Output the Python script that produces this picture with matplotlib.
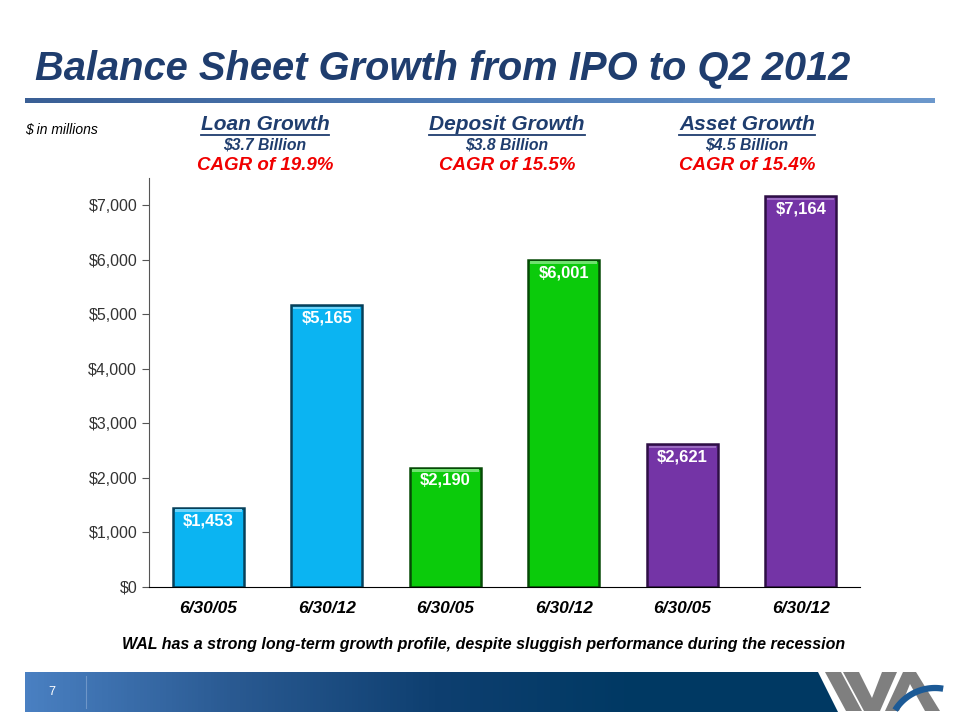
import numpy as np
import matplotlib.pyplot as plt
from matplotlib.patches import Polygon
from matplotlib.colors import LinearSegmentedColormap

plt.rcParams['font.family'] = ['Liberation Sans', 'DejaVu Sans']

# chart data
dates = ['6/30/05', '6/30/12', '6/30/05', '6/30/12', '6/30/05', '6/30/12']
values = [1453, 5165, 2190, 6001, 2621, 7164]
bar_colors = ['#0BB4F2', '#0BB4F2', '#0BCB0B', '#0BCB0B', '#7434A6', '#7434A6']
top_colors = ['#6FD3F8', '#6FD3F8', '#6FE26F', '#6FE26F', '#9B6BC1', '#9B6BC1']
edge_colors = ['#06405A', '#06405A', '#064A06', '#064A06', '#2E0F45', '#2E0F45']

groups = ['Loan Growth', 'Deposit Growth', 'Asset Growth']
group_totals = ['$3.7 Billion', '$3.8 Billion', '$4.5 Billion']
group_cagr = ['CAGR of 19.9%', 'CAGR of 15.5%', 'CAGR of 15.4%']

navy = '#1F3D6E'

fig = plt.figure(figsize=(9.6, 7.2), dpi=100)

# title and rule beneath it
fig.text(35 / 960, 1 - 69 / 720, 'Balance Sheet Growth from IPO to Q2 2012',
         fontsize=28.7, fontweight='bold', fontstyle='italic', color=navy,
         va='center', ha='left')
rule_ax = fig.add_axes([25 / 960, 1 - 103 / 720, 910 / 960, 5 / 720])
grad = np.linspace(0, 1, 256).reshape(1, -1)
rule_cmap = LinearSegmentedColormap.from_list('rule', ['#3A5F95', '#4F7DB8', '#6C98CC'])
rule_ax.imshow(grad, aspect='auto', cmap=rule_cmap)
rule_ax.axis('off')

fig.text(25 / 960, 1 - 130 / 720, '$ in millions', fontsize=10,
         fontstyle='italic', va='center', ha='left')

# group headers
header_x = [265, 507, 747]
for x, g, tot, cagr in zip(header_x, groups, group_totals, group_cagr):
    fig.text(x / 960, 1 - 124 / 720, g, fontsize=15, fontweight='bold',
             fontstyle='italic', color=navy, ha='center', va='center')
    fig.text(x / 960, 1 - 145 / 720, tot, fontsize=11.3, fontweight='bold',
             fontstyle='italic', color=navy, ha='center', va='center')
    fig.text(x / 960, 1 - 166 / 720, cagr, fontsize=13.5, fontweight='bold',
             fontstyle='italic', color='#F00000', ha='center', va='center')

# bar chart
ax = fig.add_axes([149 / 960, 1 - 587 / 720, 711 / 960, 409 / 720])
xpos = np.arange(len(values))
bars = ax.bar(xpos, values, width=0.6, color=bar_colors, edgecolor=edge_colors,
              linewidth=1.8, zorder=2)
# lighter bevel strip along the top of each bar
ax.bar(xpos, [45] * len(values), bottom=np.array(values) - 75, width=0.565,
       color=top_colors, linewidth=0, zorder=2.5)
for b, v in zip(bars, values):
    ax.text(b.get_x() + b.get_width() / 2, v - 235, f'${v:,}', color='white',
            fontsize=12, fontweight='bold', ha='center', va='center', zorder=3)

ax.set_xlim(-0.5, len(values) - 0.5)
ax.set_ylim(0, 7500)
ax.set_yticks(np.arange(0, 7001, 1000))
ax.set_yticklabels([f'${v:,}' for v in range(0, 7001, 1000)], fontsize=11.5, color='#333333')
ax.set_xticks(xpos)
ax.set_xticklabels(dates, fontsize=12.5, fontweight='bold', fontstyle='italic')
ax.tick_params(axis='x', length=0, pad=10)
ax.tick_params(axis='y', length=5, direction='out', color='#555555')
for side in ['top', 'right']:
    ax.spines[side].set_visible(False)
ax.spines['left'].set_color('#555555')
ax.spines['bottom'].set_color('black')

fig.text(484 / 960, 1 - 644 / 720,
         'WAL has a strong long-term growth profile, despite sluggish performance during the recession',
         fontsize=11.5, fontweight='bold', fontstyle='italic', ha='center', va='center')

# footer band
foot_ax = fig.add_axes([0, 0, 1, 1], zorder=-1)
foot_ax.set_xlim(0, 960)
foot_ax.set_ylim(720, 0)
foot_ax.axis('off')
foot_cmap = LinearSegmentedColormap.from_list('foot', ['#4A80C2', '#2A5A92', '#0E3F70', '#003963', '#003963'])
img = foot_ax.imshow(grad, extent=(25, 845, 712, 672), aspect='auto', cmap=foot_cmap)
clip = Polygon([(25, 672), (818, 672), (838, 712), (25, 712)], closed=True,
               transform=foot_ax.transData, facecolor='none', edgecolor='none')
foot_ax.add_patch(clip)
img.set_clip_path(clip)
foot_ax.plot([86, 86], [676, 708], color='#6E96C8', lw=0.8)
foot_ax.text(52, 692, '7', color='white', fontsize=9, ha='center', va='center')

# logo
grey = '#7F7F7F'
for pts in [
    [(825, 672), (841, 672), (862, 711), (846, 711)],
    [(843, 672), (859, 672), (872, 698), (882, 672), (897, 672), (880, 711), (864, 711)],
    [(885, 711), (903, 672), (916, 672), (940, 711), (925, 711), (910, 684), (899, 711)],
]:
    foot_ax.add_patch(Polygon(pts, closed=True, facecolor=grey, edgecolor='none'))
theta = np.radians(np.linspace(80, 148, 40))
foot_ax.plot(935 + 47 * np.cos(theta), 735 - 47 * np.sin(theta), color='#1C5A96',
             lw=4.5, solid_capstyle='butt')

# underline the group headers
fig.canvas.draw()
r = fig.canvas.get_renderer()
for t in fig.texts:
    if t.get_text() in groups:
        bb = t.get_window_extent(renderer=r)
        y = bb.y0 - 1
        fig.add_artist(plt.Line2D([bb.x0 / 960, bb.x1 / 960], [y / 720, y / 720],
                                  color=navy, lw=1.3, transform=fig.transFigure))

fig.savefig('out.png', dpi=100)
